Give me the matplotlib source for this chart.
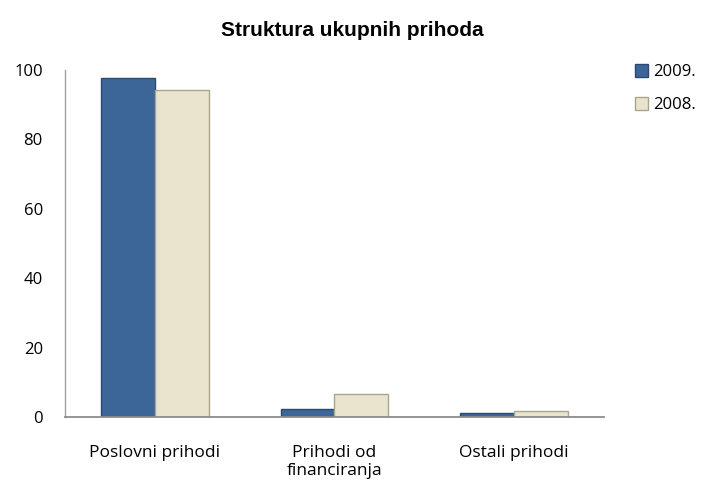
import numpy as np
import matplotlib.pyplot as plt

categories = ['Poslovni prihodi', 'Prihodi od\nfinanciranja', 'Ostali prihodi']
years = ['2009.', '2008.']
values_2009 = [97.7, 2.3, 1.2]
values_2008 = [94.2, 6.6, 1.7]

plt.rcParams['font.family'] = ['Open Sans', 'DejaVu Sans']

fig = plt.figure(figsize=(7.05, 4.88), dpi=100)
ax = fig.add_axes([0.0922, 0.1455, 0.7645, 0.711])

x = np.arange(len(categories))
w = 0.3
ax.bar(x - w / 2, values_2009, w, color='#3D6698', edgecolor='#2A4A72', linewidth=1.0, label=years[0])
ax.bar(x + w / 2, values_2008, w, color='#E9E4CE', edgecolor='#A9A48C', linewidth=1.0, label=years[1])

ax.set_xlim(-0.5, 2.5)
ax.set_ylim(0, 100)
ax.set_yticks([0, 20, 40, 60, 80, 100])
ax.set_xticks(x)
ax.set_xticklabels(categories, fontsize=12.5, linespacing=1.15)
ax.tick_params(axis='y', length=0, labelsize=12, pad=16)
ax.tick_params(axis='x', length=0, pad=20)
for s in ['top', 'right']:
    ax.spines[s].set_visible(False)
ax.spines['left'].set_color('#A0A0A0')
ax.spines['left'].set_linewidth(1.0)
ax.spines['bottom'].set_color('#8C8C8C')
ax.spines['bottom'].set_linewidth(1.3)

fig.text(0.5, 0.937, 'Struktura ukupnih prihoda', ha='center', va='center',
         fontsize=15, fontweight='bold', family='Liberation Sans')

ax.legend(loc='upper left', bbox_to_anchor=(1.03, 1.06), frameon=False, fontsize=12,
          handlelength=0.8, handleheight=0.8, labelspacing=1.0, handletextpad=0.3)

plt.savefig('out.png', dpi=100)
plt.close()
